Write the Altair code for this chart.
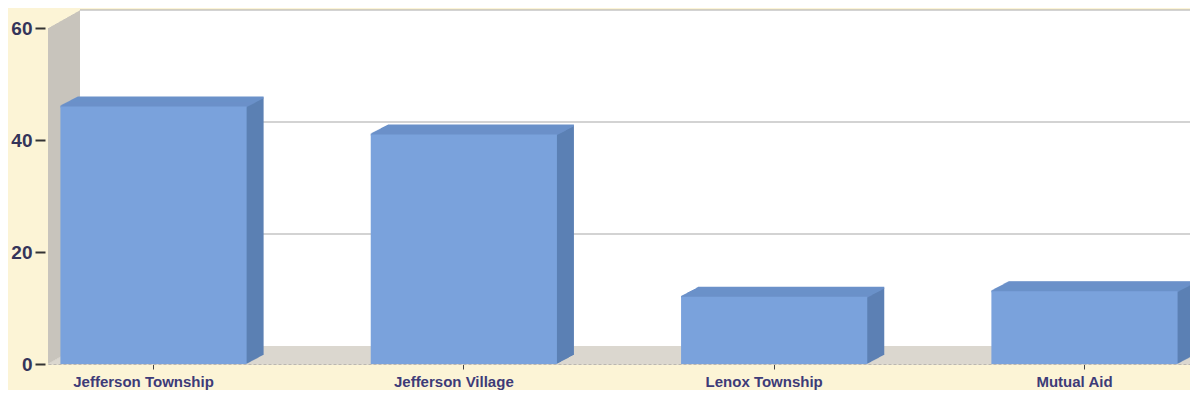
import altair as alt
import pandas as pd

categories = ["Jefferson Township", "Jefferson Village", "Lenox Township", "Mutual Aid"]
values = [46, 41, 12, 13]
y_ticks = [0, 20, 40, 60]
grid_values = [20, 40, 60]

W, H = 1142, 336
WALL_DX, WALL_DY, WALL_N = 32, 18, 32
BAR_DX, BAR_DY, BAR_N = 17, 9, 17

BG = "#fcf4d6"
WALL = "#c8c4bc"
FLOOR = "#dcd8d1"
FRONT = "#7aa2dc"
TOP = "#6b91c9"
SIDE = "#5c80b4"
FONT = "Liberation Sans"

df = pd.DataFrame({"cat": categories, "value": values})
one = pd.DataFrame({"k": [0]})
grid = pd.DataFrame({"g": grid_values})

x_scale = alt.Scale(domain=categories, paddingInner=0.4, paddingOuter=0.04)
y_scale = alt.Scale(domain=[0, 60], nice=False, zero=True)

x_axis = alt.Axis(title=None, labelAngle=0, labelFont=FONT, labelFontWeight="bold",
                  labelFontSize=15, labelColor="#3d3b78", labelPadding=5, labelOffset=-10,
                  ticks=True, tickSize=5, tickColor="#444444", tickWidth=1,
                  domain=True, domainColor="#555555", domainWidth=1.2,
                  domainDash=[3, 2], grid=False)
y_axis = alt.Axis(title=None, values=y_ticks, labelFont=FONT, labelFontWeight="bold",
                  labelFontSize=19, labelColor="#34345a", labelPadding=3,
                  ticks=True, tickSize=10, tickColor="#333333", tickWidth=2,
                  domain=False, grid=False, offset=3)

X = alt.X("cat:N", scale=x_scale, axis=x_axis, sort=categories)
Y = alt.Y("value:Q", scale=y_scale, axis=y_axis)

layers = []

# left wall (gray extrusion of the plot frame)
for i in range(WALL_N + 1):
    dx = i * WALL_DX / WALL_N
    dy = -i * WALL_DY / WALL_N
    layers.append(
        alt.Chart(one).mark_rect(color=WALL, xOffset=dx, x2Offset=dx, yOffset=dy, y2Offset=dy)
        .encode(x=alt.value(0), x2=alt.value("width"), y=alt.value(0), y2=alt.value("height"))
    )

# floor
FN = 18
for i in range(FN + 1):
    dx = i * WALL_DX / FN
    dy = -i * WALL_DY / FN
    layers.append(
        alt.Chart(one).mark_rule(color=FLOOR, strokeWidth=1.6, xOffset=dx, x2Offset=dx, yOffset=dy)
        .encode(x=alt.value(0), x2=alt.value("width"), y=alt.value("height"))
    )

# back wall
layers.append(
    alt.Chart(one).mark_rect(color="white", xOffset=WALL_DX, x2Offset=WALL_DX,
                             yOffset=-WALL_DY, y2Offset=-WALL_DY)
    .encode(x=alt.value(0), x2=alt.value("width"), y=alt.value(0), y2=alt.value("height"))
)

# gridlines on back wall
layers.append(
    alt.Chart(grid).mark_rule(color="#a8a8a8", strokeWidth=1.2, xOffset=WALL_DX, x2Offset=WALL_DX,
                              yOffset=-WALL_DY)
    .encode(y=alt.Y("g:Q", scale=y_scale, axis=y_axis), x=alt.value(0), x2=alt.value("width"))
)

# bar sides (extrusion)
for i in range(BAR_N, 0, -1):
    dx = i * BAR_DX / BAR_N
    dy = -i * BAR_DY / BAR_N
    layers.append(
        alt.Chart(df).mark_bar(color=SIDE, xOffset=dx, x2Offset=dx, yOffset=dy, y2Offset=dy)
        .encode(x=X, y=Y)
    )

# bar tops
for i in range(BAR_N + 1):
    dx = i * BAR_DX / BAR_N
    dy = -i * BAR_DY / BAR_N
    layers.append(
        alt.Chart(df).mark_bar(color=TOP, xOffset=dx, x2Offset=dx, yOffset=dy - 1, y2Offset=dy + 1)
        .encode(x=X, y=Y, y2=alt.Y2("value:Q"))
    )

# bar fronts
layers.append(alt.Chart(df).mark_bar(color=FRONT).encode(x=X, y=Y))

chart = alt.layer(*layers).properties(
    width=W, height=H,
    background=BG,
    padding={"left": 40, "top": 20, "right": 0, "bottom": 26},
    autosize=alt.AutoSizeParams(type="none"),
).configure_view(stroke=None)

chart.save("out.html", embed_options={"renderer": "svg", "actions": False})
